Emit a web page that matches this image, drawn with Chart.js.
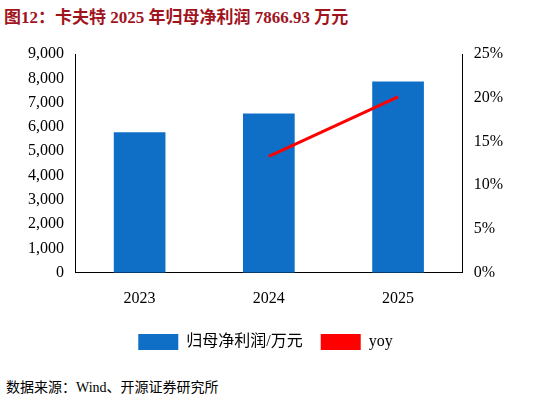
<!DOCTYPE html>
<html><head><meta charset="utf-8">
<script src="https://cdn.jsdelivr.net/npm/chart.js@4"></script>
<style>
body{margin:0;width:546px;height:405px;background:#fff;font-family:"Liberation Serif","Noto Sans CJK SC",serif;position:relative;overflow:hidden}
#t{position:absolute;left:4px;top:3px;font-size:17px;font-weight:bold;color:#a0141e}
#s{position:absolute;left:6px;top:376px;font-size:14px;color:#000}
#c{position:absolute;left:0;top:40px;width:546px;height:320px}
</style></head><body>
<div id="t">图12：卡夫特 2025 年归母净利润 7866.93 万元</div>
<div id="c"><canvas id="cv"></canvas></div>
<div id="s">数据来源：Wind、开源证券研究所</div>
<script>
const categories=["2023","2024","2025"];
const profit=[5780,6550,7866.93];
const yoy=[null,13.3,20.1];
const font={family:"'Liberation Serif','Noto Sans CJK SC',serif",size:16};
new Chart(document.getElementById('cv'),{
data:{labels:categories,datasets:[
{type:'bar',label:'归母净利润/万元',data:profit,backgroundColor:'#0f6fc6',yAxisID:'y',barPercentage:0.4,categoryPercentage:1,order:1},
{type:'line',label:'yoy',data:yoy,borderColor:'#ff0000',backgroundColor:'#ff0000',borderWidth:3,pointRadius:0,yAxisID:'y1',order:0}
]},
options:{responsive:true,maintainAspectRatio:false,animation:false,
layout:{padding:{left:25,right:40,top:14,bottom:0}},
plugins:{legend:{position:'bottom',labels:{font,color:'#000',boxWidth:40,padding:18,
generateLabels(c){return c.data.datasets.map((d,i)=>d.type==='bar'?({text:d.label,fillStyle:d.backgroundColor,strokeStyle:d.backgroundColor,lineWidth:0,boxHeight:10,datasetIndex:i,fontColor:'#000'}):({text:d.label,fillStyle:'#ff0000',strokeStyle:'#ff0000',lineWidth:0,datasetIndex:i,fontColor:'#000',pointStyle:'line'}));}}},tooltip:{enabled:false}},
scales:{
x:{grid:{display:false},border:{color:'#000'},ticks:{font,color:'#000',padding:8}},
y:{min:0,max:9000,ticks:{stepSize:1000,font,color:'#000',callback:v=>v.toLocaleString('en-US')},grid:{display:false},border:{color:'#000'}},
y1:{position:'right',min:0,max:25,ticks:{stepSize:5,font,color:'#000',callback:v=>v+'%'},grid:{display:false},border:{color:'#000'}}
}}});
</script></body></html>
